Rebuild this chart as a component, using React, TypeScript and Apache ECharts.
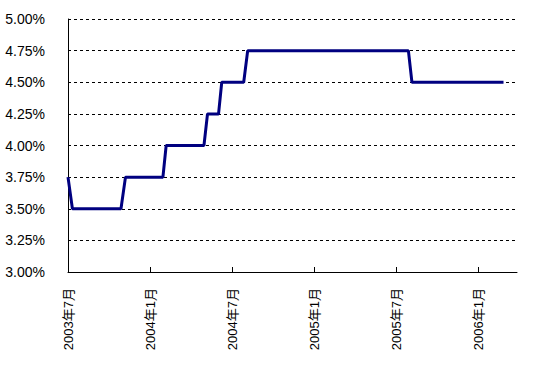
import React, { useEffect, useRef } from "react";
import * as echarts from "echarts";

// Policy rate step changes (date, rate %)
const dates = [
  "2003-07-01", "2003-07-11",
  "2003-10-28", "2003-11-07",
  "2004-01-30", "2004-02-06",
  "2004-04-29", "2004-05-07",
  "2004-06-01", "2004-06-08",
  "2004-07-27", "2004-08-05",
  "2005-07-28", "2005-08-05",
  "2006-02-24",
];
const rates = [
  3.75, 3.5,
  3.5, 3.75,
  3.75, 4.0,
  4.0, 4.25,
  4.25, 4.5,
  4.5, 4.75,
  4.75, 4.5,
  4.5,
];
const startYear = 2003;
const startMonth = 7;
const axisEnd = "2006-03-26";

function monthOffset(d: string): number {
  const [y, m, day] = d.split("-").map(Number);
  const dim = new Date(y, m, 0).getDate();
  return (y - startYear) * 12 + (m - startMonth) + (day - 1) / dim;
}

export default function App() {
  const ref = useRef<HTMLDivElement>(null);
  useEffect(() => {
    if (!ref.current) return;
    const chart = echarts.init(ref.current, null, { renderer: "svg" });
    const font = '"Liberation Sans", "Noto Sans CJK JP", sans-serif';
    chart.setOption({
      animation: false,
      grid: { left: 68, top: 19, right: 17, bottom: 99 },
      xAxis: {
        type: "value",
        min: 0,
        max: monthOffset(axisEnd),
        interval: 6,
        axisLine: { lineStyle: { color: "#000", width: 1 } },
        axisTick: { show: true, inside: true, length: 5, lineStyle: { color: "#000" } },
        splitLine: { show: false },
        axisLabel: {
          rotate: 90,
          margin: 16,
          color: "#000",
          fontSize: 13,
          fontFamily: font,
          showMaxLabel: false,
          formatter: (v: number) => {
            const total = startMonth - 1 + v;
            const y = startYear + Math.floor(total / 12);
            const m = (total % 12) + 1;
            return `${y}年${m}月`;
          },
        },
      },
      yAxis: {
        type: "value",
        min: 3,
        max: 5,
        interval: 0.25,
        axisLine: { show: true, lineStyle: { color: "#000", width: 1 } },
        axisTick: { show: false },
        splitLine: { show: true, lineStyle: { color: "#000", type: [3, 3], width: 1 } },
        axisLabel: {
          margin: 23,
          color: "#000",
          fontSize: 14,
          fontFamily: font,
          formatter: (v: number) => v.toFixed(2) + "%",
        },
      },
      series: [
        {
          type: "line",
          data: dates.map((d, i) => [monthOffset(d), rates[i]]),
          showSymbol: false,
          lineStyle: { color: "#000080", width: 3 },
          z: 5,
        },
      ],
    });
    return () => chart.dispose();
  }, []);
  return <div ref={ref} style={{ width: 534, height: 371, position: "absolute", left: 0, top: 0 }} />;
}
